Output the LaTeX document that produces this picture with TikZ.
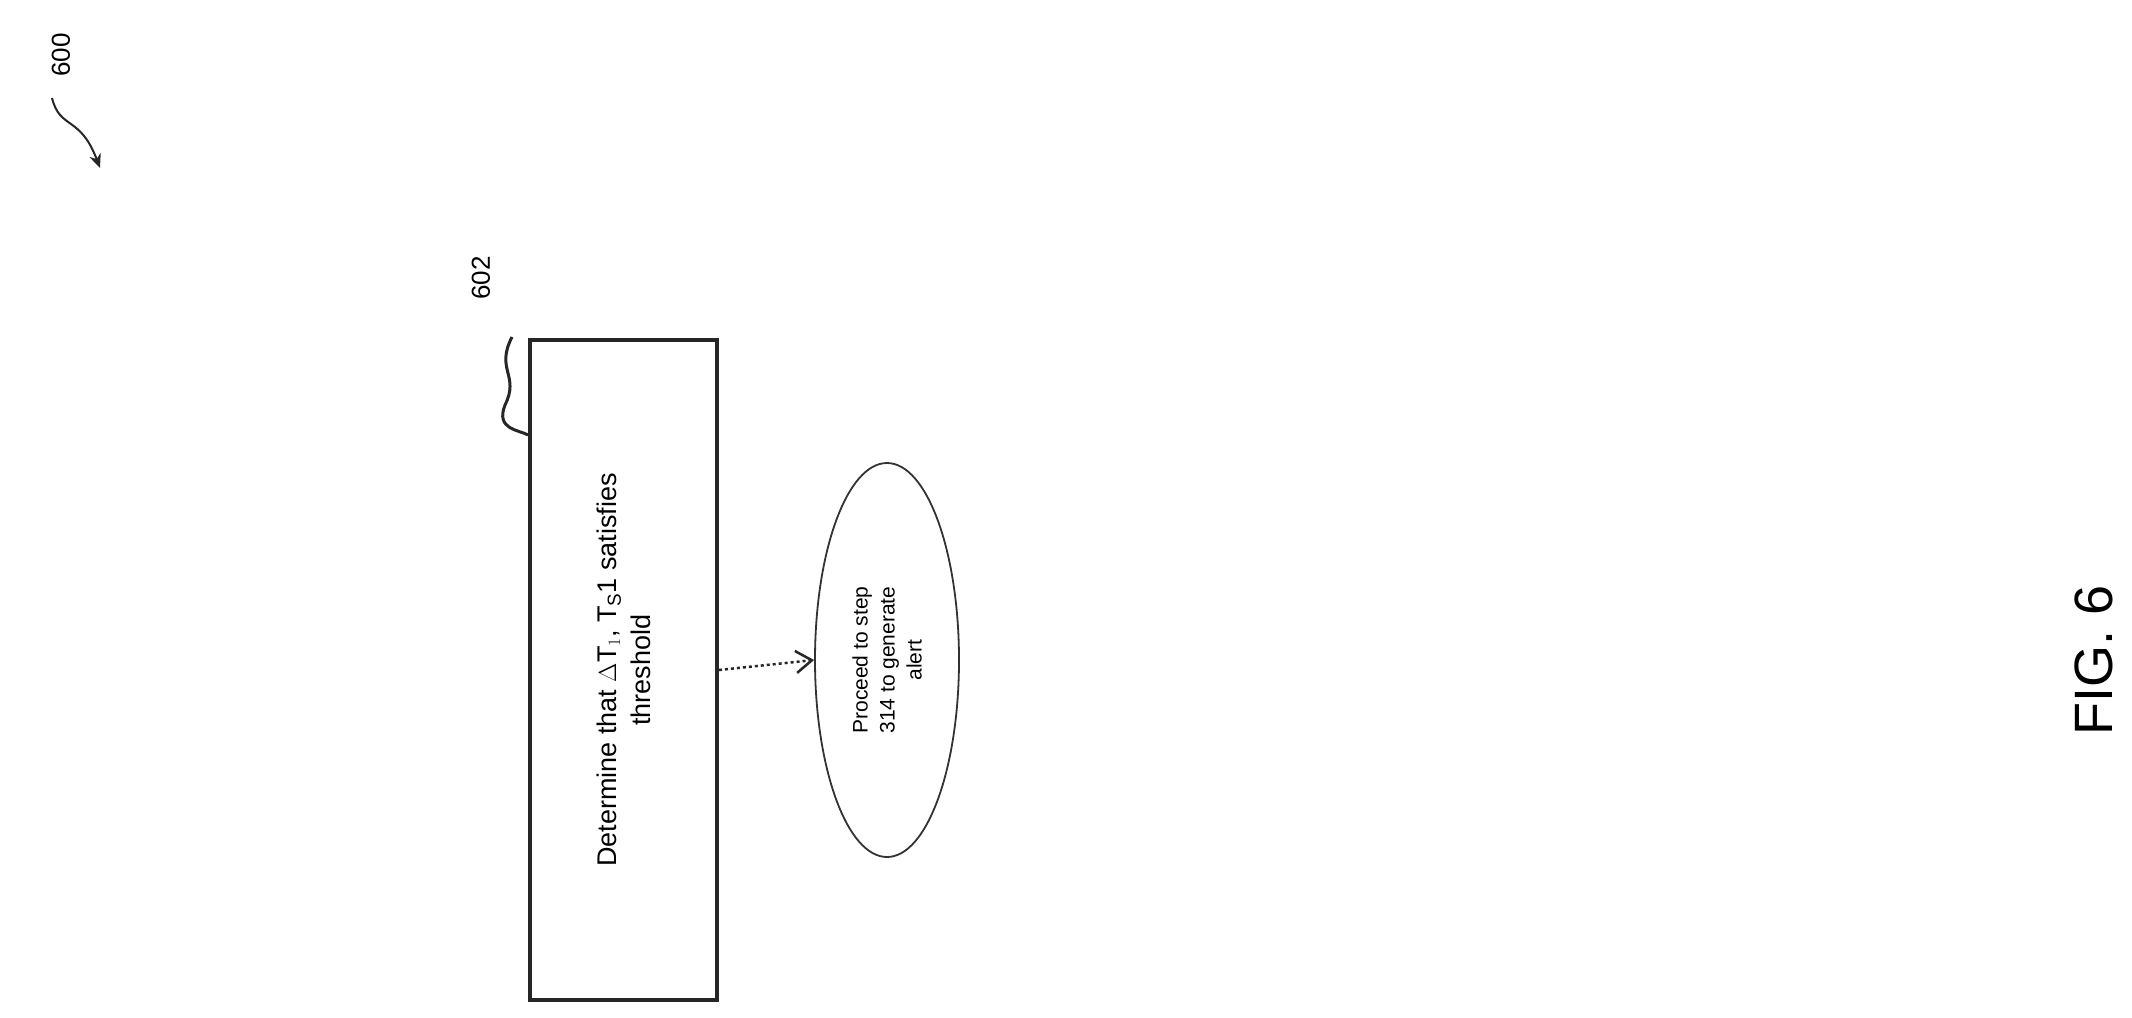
\documentclass[tikz,border=0pt]{standalone}
\usepackage{fontspec}
\setmainfont{Liberation Sans}
\usetikzlibrary{shapes.geometric,arrows.meta}
\begin{document}
\begin{tikzpicture}[x=1pt,y=-1pt,
  boxstyle/.style={draw=black!85,line width=4pt,minimum width=660pt,minimum height=187pt,rotate=90,align=center,font=\fontsize{27}{34}\selectfont},
  ovalstyle/.style={ellipse,draw=black!80,line width=1.8pt,minimum width=394pt,minimum height=144pt,rotate=90,align=center,inner sep=0pt,font=\fontsize{21}{27}\selectfont},
  reflabel/.style={rotate=90,font=\fontsize{26}{30}\selectfont},
  conn/.style={draw=black!85,line width=2.5pt,dashed,-{Straight Barb[length=16pt,width=22pt,line width=2.5pt]}},
  lead/.style={draw=black!85,line width=3pt}]
\useasboundingbox (0,0) rectangle (2132,1017);
\node[reflabel] (l600) at (61,55) {600};
\coordinate (a600) at (52,98);
\coordinate (t600) at (100,168);
\draw[lead,line width=2pt,-{Stealth[length=14pt,width=12pt]}] (a600) .. controls (60,130) and (80,115) .. (t600);
\node[boxstyle] (b602) at (623.5,670) {Determine that $\Delta$T$_1$, T$_{\mathrm{S}}$1 satisfies\\threshold};
\node[reflabel] (l602) at (481,278) {602};
\coordinate (a602) at (512,337);
\draw[lead] (a602) .. controls (495,370) and (520,375) .. (505,405) .. controls (495,430) and (520,430) .. (b602.north east|-0,435);
\node[ovalstyle] (e314) at (887,660) {Proceed to step\\314 to generate\\alert};
\draw[conn] (b602.south) -- (e314.north);
\node[rotate=90,font=\fontsize{54}{60}\selectfont] (fig) at (2094,660) {FIG. 6};
\end{tikzpicture}
\end{document}
